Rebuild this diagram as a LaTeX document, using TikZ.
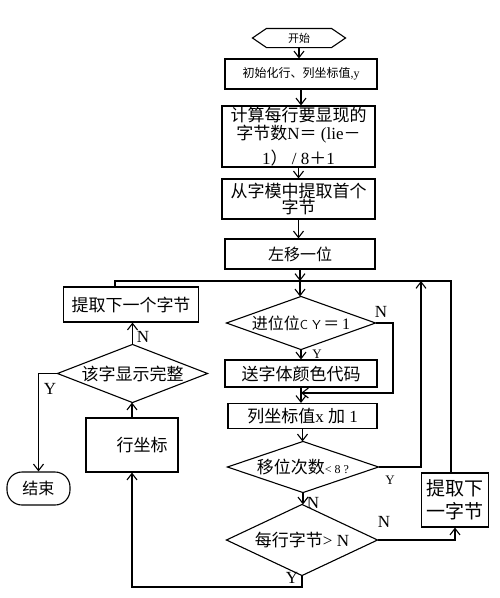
\documentclass[tikz,border=0pt]{standalone}
\usepackage{fontspec}
\setmainfont{Liberation Serif}
\newfontfamily\cjk{Noto Sans CJK SC}
\usetikzlibrary{arrows.meta,calc}
\newcommand\myfs[2]{\fontsize{#1}{#2}\selectfont}
\begin{document}
\begin{tikzpicture}[x=1pt,y=-1pt,line width=1.1pt,
  box/.style={draw, rectangle, inner sep=0pt, align=center},
  ghost/.style={rectangle, inner sep=0pt, align=center},
  arr/.style={-{Straight Barb[length=6.5pt,width=10pt]}},
  lab/.style={inner sep=0pt, font=\myfs{17}{17}},
  slab/.style={inner sep=0pt, font=\myfs{13}{13}},
]
\useasboundingbox (0,0) rectangle (500,598);

% main column
\node[ghost, minimum width=92pt, minimum height=18pt, font=\cjk\myfs{11}{12}] (start) at (299,38) {开始};
\draw (start.west) -- ($(start.north west)+(14,0)$) -- ($(start.north east)+(-14,0)$) -- (start.east)
  -- ($(start.south east)+(-14,0)$) -- ($(start.south west)+(14,0)$) -- cycle;

\node[box, minimum width=152pt, minimum height=30pt, font=\myfs{12}{14}] (init) at (301,74)
  {{\cjk 初始化行、列坐标值},y};

\node[box, minimum width=153pt, minimum height=61pt, font=\myfs{17}{18}] (calc) at (298.5,136.5)
  {{\cjk 计算每行要显现的}\\{\cjk 字节数}N{\cjk ＝} (lie{\cjk －}\\[6pt]1{\cjk ）} / 8{\cjk ＋}1};

\node[box, minimum width=153pt, minimum height=40pt, font=\cjk\myfs{17}{16}] (first) at (298.5,199)
  {从字模中提取首个\\字节};

\node[box, minimum width=150pt, minimum height=30pt, font=\cjk\myfs{16}{18}] (shift) at (300,254) {左移一位};

\node[ghost, minimum width=148pt, minimum height=52pt, font=\myfs{16}{18}] (dcy) at (301,323)
  {{\cjk 进位位}{\sffamily\myfs{13}{14}C Y}\,{\cjk ＝}\,1};
\draw (dcy.north) -- (dcy.east) -- (dcy.south) -- (dcy.west) -- cycle;

\node[box, minimum width=152pt, minimum height=27pt, font=\cjk\myfs{17}{18}] (send) at (301,373.5) {送字体颜色代码};

\node[box, minimum width=149pt, minimum height=25pt, font=\myfs{17}{18}] (col) at (302.5,416)
  {{\cjk 列坐标值}x {\cjk 加} 1};

\node[ghost, minimum width=150pt, minimum height=50pt, font=\myfs{17}{18}] (dsh) at (303,467)
  {{\cjk 移位次数}{\myfs{12}{13}< 8 ?}};
\draw (dsh.north) -- (dsh.east) -- (dsh.south) -- (dsh.west) -- cycle;

\node[ghost, minimum width=150pt, minimum height=70pt, font=\myfs{17}{18}] (drow) at (302,540)
  {{\cjk 每行字节}> N};
\draw (drow.north) -- (drow.east) -- (drow.south) -- (drow.west) -- cycle;

\node[box, minimum width=67pt, minimum height=54pt, font=\cjk\myfs{19}{23}] (nextR) at (455,500)
  {提取下\\一字节};

% left column
\node[box, minimum width=135pt, minimum height=35pt, font=\cjk\myfs{17}{18}] (nextL) at (131,304.5)
  {提取下一个字节};

\node[ghost, minimum width=149pt, minimum height=57pt, font=\cjk\myfs{17}{18}] (ddone) at (132.5,373.5)
  {该字显示完整};
\draw (ddone.north) -- (ddone.east) -- (ddone.south) -- (ddone.west) -- cycle;

\node[box, minimum width=92pt, minimum height=54pt, font=\cjk\myfs{17}{18}] (row) at (132,445)
  {\hspace*{20pt}行坐标};

\node[draw, rounded corners=15pt, minimum width=63pt, minimum height=33pt, inner sep=0pt,
  font=\cjk\myfs{16}{18}] (stop) at (38.5,488.5) {结束};

% connectors
\draw[arr] (start.south) -- (start.south |- init.north);
\draw[arr] (init.south) -- (init.south |- calc.north);
\draw[arr] (calc.south) -- (calc.south |- first.north);
\draw[arr] (first.south) -- (first.south |- shift.north);
\coordinate (jt) at (300,281);
\draw[arr] (shift.south) -- (shift.south |- jt);
\draw[arr] (jt) -- (jt |- dcy.north);

\coordinate (lt) at (115,281);
\coordinate (rt) at (451,281);
\draw (lt |- nextL.north) -- (lt) -- (rt) -- (rt |- nextR.north);

\draw[arr] (dcy.south) -- (dcy.south |- send.north);
\coordinate (ncy) at (393,393);
\draw[arr] (dcy.east) -| (ncy) -- (ncy -| send.south);
\draw[arr] (send.south) -- (send.south |- col.north);
\draw[arr] (col.south) -- (col.south |- dsh.north);
\coordinate (yup) at (421,281);
\draw[arr] (dsh.east) -| (yup);
\draw[arr] (dsh.south) -- (dsh.south |- drow.north);
\draw[arr] (drow.east) -| (nextR.south);
\coordinate (bl) at (302,587);
\draw[arr] (drow.south) -- (drow.south |- bl) -| (row.south);
\draw[arr] (row.north) -- (row.north |- ddone.south);
\draw[arr] (ddone.north) -- (ddone.north |- nextL.south);
\draw[arr] (ddone.west) -| (stop.north);

% labels
\node[lab] (l1) at (381,312) {N};
\node[slab] (l2) at (317,354) {Y};
\node[slab] (l3) at (390,480) {Y};
\node[lab] (l4) at (313,503) {N};
\node[lab] (l5) at (384,522) {N};
\node[lab] (l6) at (292,578) {Y};
\node[lab] (l7) at (143,337) {N};
\node[lab] (l8) at (50,389) {Y};
\end{tikzpicture}
\end{document}
